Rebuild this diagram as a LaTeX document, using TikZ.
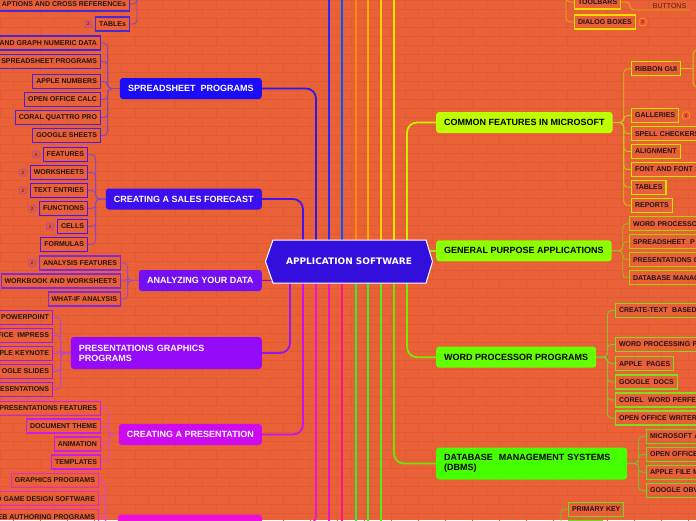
\documentclass[tikz,border=0pt]{standalone}
\usepackage{fontspec}
\setmainfont{Liberation Sans}
\newfontfamily\hexfont{DejaVu Sans}
\usetikzlibrary{positioning,calc}
\pgfdeclarelayer{back}\pgfdeclarelayer{lines}\pgfsetlayers{back,lines,main}
\definecolor{bgc}{RGB}{234,97,56}
\definecolor{brickc}{RGB}{224,90,51}
\definecolor{leaftxt}{RGB}{35,20,25}
\definecolor{appfill}{RGB}{50,15,220}
\definecolor{ssfill}{RGB}{28,12,250}
\definecolor{sffill}{RGB}{60,15,240}
\definecolor{ayfill}{RGB}{115,15,240}
\definecolor{pgfill}{RGB}{150,10,250}
\definecolor{cpfill}{RGB}{205,10,240}
\definecolor{botfill}{RGB}{235,15,220}
\definecolor{cffill}{RGB}{190,255,0}
\definecolor{gpfill}{RGB}{140,255,0}
\definecolor{wpfill}{RGB}{100,255,0}
\definecolor{dbfill}{RGB}{70,255,0}
\definecolor{topb}{RGB}{75,40,215}
\definecolor{ssb}{RGB}{70,35,220}
\definecolor{sfb}{RGB}{80,20,240}
\definecolor{ayb}{RGB}{130,40,220}
\definecolor{pgb}{RGB}{150,30,240}
\definecolor{cpb}{RGB}{200,30,230}
\definecolor{botb}{RGB}{230,40,210}
\definecolor{ssl}{RGB}{130,70,190}
\definecolor{sfl}{RGB}{140,70,200}
\definecolor{ayl}{RGB}{160,70,200}
\definecolor{pgl}{RGB}{180,70,210}
\definecolor{cpl}{RGB}{210,70,210}
\definecolor{botl}{RGB}{225,70,200}
\definecolor{tbb}{RGB}{240,220,0}
\definecolor{tbl}{RGB}{225,175,20}
\definecolor{cfb}{RGB}{200,230,0}
\definecolor{cfl}{RGB}{200,200,20}
\definecolor{gpb}{RGB}{170,210,0}
\definecolor{gpl}{RGB}{170,180,20}
\definecolor{wpb}{RGB}{130,220,30}
\definecolor{wpl}{RGB}{130,200,40}
\definecolor{dbb}{RGB}{100,225,30}
\definecolor{dbl}{RGB}{110,200,40}
\definecolor{badgefill}{RGB}{235,88,50}
\definecolor{badgel}{RGB}{170,80,170}
\definecolor{badger}{RGB}{255,140,40}
\definecolor{btntxt}{RGB}{90,30,10}
\definecolor{ssc}{RGB}{40,25,240}
\definecolor{sfc}{RGB}{70,20,235}
\definecolor{ayc}{RGB}{110,20,235}
\definecolor{pgc}{RGB}{150,20,240}
\definecolor{cpc}{RGB}{200,20,235}
\definecolor{botc}{RGB}{235,20,215}
\definecolor{tA}{RGB}{40,40,255}
\definecolor{tB}{RGB}{0,85,255}
\definecolor{tC}{RGB}{255,140,0}
\definecolor{tD}{RGB}{255,175,0}
\definecolor{tE}{RGB}{255,210,0}
\definecolor{tF}{RGB}{240,235,0}
\definecolor{bA}{RGB}{240,20,200}
\definecolor{bB}{RGB}{255,20,140}
\definecolor{bC}{RGB}{40,240,60}
\definecolor{bD}{RGB}{60,240,40}
\definecolor{bE}{RGB}{80,240,30}
\definecolor{cfc}{RGB}{200,240,0}
\definecolor{gpc}{RGB}{150,235,0}
\definecolor{wpc}{RGB}{120,235,0}
\definecolor{dbc}{RGB}{110,230,0}
\begin{document}
\begin{tikzpicture}[x=1pt,y=-1pt,
  leaf/.style={draw=#1, line width=1.1pt, font=\bfseries\fontsize{7}{8}\selectfont, text=leaftxt, inner xsep=3.5pt, inner ysep=0pt, minimum height=14pt},
  leafL/.style={leaf=#1, anchor=east},
  leafR/.style={leaf=#1, anchor=west},
  clipR/.style={text width=100pt, align=left},
  branch/.style={rounded corners=3pt, font=\bfseries\fontsize{9}{10}\selectfont, minimum height=21pt, inner xsep=8pt, inner ysep=3pt},
  branchL/.style={branch, anchor=east, text=white},
  branchR/.style={branch, anchor=west, text=black},
  mainc/.style={line width=1.8pt, rounded corners=10pt},
  subc/.style={line width=0.8pt, rounded corners=4pt},
  badge/.style={draw=#1, fill=badgefill, line width=0.8pt, rounded corners=1.5pt, minimum size=7pt, inner sep=0pt, font=\fontsize{4.5}{5}\selectfont, text=leaftxt}
]
\useasboundingbox (0,0) rectangle (696,520);
\begin{pgfonlayer}{back}
\fill[bgc] (0,0) rectangle (696,520);
\foreach \r in {0,...,58}{
  \draw[brickc, line width=0.5pt] (0,\r*9) -- (696,\r*9);
  \pgfmathsetmacro{\off}{mod(\r,2)*13.5}
  \foreach \c in {0,...,26}{\draw[brickc, line width=0.5pt] (\c*27+\off,\r*9) -- ++(0,9);}
}
\end{pgfonlayer}

% central node
\filldraw[fill=appfill, draw=white, line width=1pt] (265.5,261.5) -- (273,240) -- (426,240) -- (432.5,261.5) -- (426,283) -- (273,283) -- cycle;
\node[font=\hexfont\bfseries\fontsize{9}{10}\selectfont, text=white, minimum width=167pt, minimum height=43pt, inner sep=0pt] (app) at (349,261.5) {APPLICATION SOFTWARE};

% left branches
\node[branchL, fill=ssfill, minimum width=142pt] (ss) at (262,88.5) {SPREADSHEET~~PROGRAMS};
\node[branchL, fill=sffill, minimum width=156pt] (sf) at (262,199) {CREATING A SALES FORECAST};
\node[branchL, fill=ayfill, minimum width=123pt] (ay) at (262,280.5) {ANALYZING YOUR DATA};
\node[branchL, fill=pgfill, minimum height=32pt, text width=175pt, align=left] (pg) at (262,353) {PRESENTATIONS GRAPHICS\\PROGRAMS};
\node[branchL, fill=cpfill, minimum width=143pt] (cp) at (262,434.5) {CREATING A PRESENTATION};
\node[branch, anchor=north east, fill=botfill, minimum width=144pt, minimum height=22pt] (bot) at (262,514.3) {};

% right branches
\node[branchR, fill=cffill, minimum width=176pt] (cf) at (436,122.5) {COMMON FEATURES IN MICROSOFT};
\node[branchR, fill=gpfill, minimum width=175pt] (gp) at (436,250.8) {GENERAL PURPOSE APPLICATIONS};
\node[branchR, fill=wpfill, minimum width=160pt] (wp) at (436,357.2) {WORD PROCESSOR PROGRAMS};
\node[branchR, fill=dbfill, minimum height=32pt, text width=175pt, align=left] (db) at (436,463.5) {DATABASE~~MANAGEMENT SYSTEMS\\(DBMS)};

% top-left group
\node[leafL=topb] (cap) at (130,4) {APTIONS AND CROSS REFERENCEs};
\node[leafL=topb] (tab) at (130,24) {TABLEs};
\node[badge=badgel, left=3pt of tab] (tabb) {2};
\coordinate (capp) at (137,-8);

% spreadsheet group
\node[leafL=ssb] (ss1) at (101,43) {AND GRAPH NUMERIC DATA};
\node[leafL=ssb] (ss2) at (101,61.5) {SPREADSHEET PROGRAMS};
\node[leafL=ssb] (ss3) at (101,81.5) {APPLE NUMBERS};
\node[leafL=ssb] (ss4) at (101,99.5) {OPEN OFFICE CALC};
\node[leafL=ssb] (ss5) at (101,117.5) {CORAL QUATTRO PRO};
\node[leafL=ssb] (ss6) at (101,135.5) {GOOGLE SHEETS};

% sales forecast group
\node[leafL=sfb] (sf1) at (88,154.5) {FEATURES};
\node[leafL=sfb] (sf2) at (88,172.5) {WORKSHEETS};
\node[leafL=sfb] (sf3) at (88,190.5) {TEXT ENTRIES};
\node[leafL=sfb] (sf4) at (88,208.5) {FUNCTIONS};
\node[leafL=sfb] (sf5) at (88,226.5) {CELLS};
\node[leafL=sfb] (sf6) at (88,244.5) {FORMULAS};
\node[badge=badgel, left=3pt of sf1] (sfb1) {2};
\node[badge=badgel, left=3pt of sf2] (sfb2) {2};
\node[badge=badgel, left=3pt of sf3] (sfb3) {2};
\node[badge=badgel, left=3pt of sf4] (sfb4) {2};
\node[badge=badgel, left=3pt of sf5] (sfb5) {2};

% analyzing group
\node[leafL=ayb] (ay1) at (121,263) {ANALYSIS FEATURES};
\node[leafL=ayb] (ay2) at (121,281) {WORKBOOK AND WORKSHEETS};
\node[leafL=ayb] (ay3) at (121,299) {WHAT-IF ANALYSIS};
\node[badge=badgel, left=3pt of ay1] (ayb1) {2};

% presentation graphics group
\node[leafL=pgb] (pg1) at (53,317.5) {POWERPOINT};
\node[leafL=pgb] (pg2) at (53,335.5) {FICE~~IMPRESS};
\node[leafL=pgb] (pg3) at (53,353.5) {PLE KEYNOTE};
\node[leafL=pgb] (pg4) at (53,371.5) {OGLE SLIDES};
\node[leafL=pgb] (pg5) at (53,389.5) {ESENTATIONS};

% creating a presentation group
\node[leafL=cpb] (cp1) at (101,408.3) {PRESENTATIONS FEATURES};
\node[leafL=cpb] (cp2) at (101,426) {DOCUMENT THEME};
\node[leafL=cpb] (cp3) at (101,444) {ANIMATION};
\node[leafL=cpb] (cp4) at (101,462) {TEMPLATES};

% bottom group
\node[leafL=botb] (bt1) at (99,480.3) {GRAPHICS PROGRAMS};
\node[leafL=botb] (bt2) at (99,498.7) {D GAME DESIGN SOFTWARE};
\node[leafL=botb] (bt3) at (99,516.7) {EB AUTHORING PROGRAMS};

% toolbars group
\node[leafR=tbb] (tb1) at (574,2) {TOOLBARS};
\node[leafR=tbb] (tb2) at (574,22) {DIALOG BOXES};
\node[badge=badger, right=3pt of tb2] (tbb2) {2};
\node[font=\fontsize{7}{8}\selectfont, text=btntxt, text width=48pt, align=right, inner xsep=4pt, inner ysep=1.5pt, anchor=south west] (btn) at (634,10) {BUTTONS};
\coordinate (tbp) at (566,-8);

% common features group
\node[leafR=cfb] (cf1) at (631,68.8) {RIBBON GUI};
\node[leafR=cfb] (cf2) at (631,115.5) {GALLERIES};
\node[leafR=cfb, clipR] (cf3) at (631,133.7) {SPELL CHECKERS};
\node[leafR=cfb] (cf4) at (631,151.5) {ALIGNMENT};
\node[leafR=cfb, clipR] (cf5) at (631,169.5) {FONT AND FONT S};
\node[leafR=cfb] (cf6) at (631,187.2) {TABLES};
\node[leafR=cfb] (cf7) at (631,205.3) {REPORTS};
\node[badge=badger, right=3pt of cf2] (cfb2) {2};
\coordinate (rg1) at (704,50);
\coordinate (rg2) at (704,87);

% general purpose group
\node[leafR=gpb, clipR] (gp1) at (629,223.8) {WORD PROCESSO};
\node[leafR=gpb, clipR] (gp2) at (629,241.8) {SPREADSHEET~~P};
\node[leafR=gpb, clipR] (gp3) at (629,259.8) {PRESENTATIONS G};
\node[leafR=gpb, clipR] (gp4) at (629,277.8) {DATABASE MANAG};

% word processor group
\node[leafR=wpb, clipR] (wp1) at (615,310.5) {CREATE-TEXT~~BASED};
\node[leafR=wpb, clipR] (wp2) at (615,344.5) {WORD PROCESSING P};
\node[leafR=wpb] (wp3) at (615,363.8) {APPLE~~PAGES};
\node[leafR=wpb] (wp4) at (615,382) {GOOGLE~~DOCS};
\node[leafR=wpb, clipR] (wp5) at (615,400) {COREL~~WORD PERFE};
\node[leafR=wpb, clipR] (wp6) at (615,418) {OPEN OFFICE WRITER};

% dbms group
\node[leafR=dbb, clipR] (db1) at (646,436.3) {MICROSOFT A};
\node[leafR=dbb, clipR] (db2) at (646,454.5) {OPEN OFFICE};
\node[leafR=dbb, clipR] (db3) at (646,472.3) {APPLE FILE M};
\node[leafR=dbb, clipR] (db4) at (646,490.5) {GOOGLE OBV};

% primary key group
\node[leafR=dbb] (pk) at (568,509.2) {PRIMARY KEY};
\node[leaf=dbb, anchor=north west, minimum width=34pt] (pk2) at (568,519.5) {};
\coordinate (pkp) at (561,530);

% off-page ends of main connectors
\coordinate (tA) at ($(app.north)+(-20,-250)$);
\coordinate (tB) at ($(app.north)+(-7,-250)$);
\coordinate (tC) at ($(app.north)+(7,-250)$);
\coordinate (tD) at ($(app.north)+(19,-250)$);
\coordinate (tE) at ($(app.north)+(32,-250)$);
\coordinate (tF) at ($(app.north)+(45,-250)$);
\coordinate (bA) at ($(app.south)+(-20,250)$);
\coordinate (bB) at ($(app.south)+(-7,250)$);
\coordinate (bC) at ($(app.south)+(7,250)$);
\coordinate (bD) at ($(app.south)+(19,250)$);
\coordinate (bE) at ($(app.south)+(32,250)$);

\begin{pgfonlayer}{lines}
% main connectors
\draw[mainc, ssc] (ss.east) -| ([xshift=-33pt]app.north);
\draw[mainc, sfc] (sf.east) -| ([xshift=-46pt]app.north);
\draw[mainc, ayc] (ay.east) -- ($(app.west |- ay.east)+(8,0)$);
\draw[mainc, pgc] (pg.east) -| ([xshift=-59pt]app.south);
\draw[mainc, cpc] (cp.east) -| ([xshift=-46pt]app.south);
\draw[mainc, botc] (bot.east) -| ([xshift=-33pt]app.south);
\draw[mainc, tA] ([xshift=-20pt]app.north) -- (tA);
\draw[mainc, tB] ([xshift=-7pt]app.north) -- (tB);
\draw[mainc, tC] ([xshift=7pt]app.north) -- (tC);
\draw[mainc, tD] ([xshift=19pt]app.north) -- (tD);
\draw[mainc, tE] ([xshift=32pt]app.north) -- (tE);
\draw[mainc, tF] ([xshift=45pt]app.north) -- (tF);
\draw[mainc, bA] ([xshift=-20pt]app.south) -- (bA);
\draw[mainc, bB] ([xshift=-7pt]app.south) -- (bB);
\draw[mainc, bC] ([xshift=7pt]app.south) -- (bC);
\draw[mainc, bD] ([xshift=19pt]app.south) -- (bD);
\draw[mainc, bE] ([xshift=32pt]app.south) -- (bE);
\draw[mainc, cfc] (cf.west) -| ([xshift=58pt]app.north);
\draw[mainc, gpc] (gp.west) -- ($(app.east |- gp.west)+(-6,0)$);
\draw[mainc, wpc] (wp.west) -| ([xshift=58pt]app.south);
\draw[mainc, dbc] (db.west) -| ([xshift=45pt]app.south);

% sub connectors, left
\draw[subc, ssl] (cap.east) -| (capp);
\draw[subc, ssl] (tab.east) -| (capp);
\foreach \n in {ss1,ss2,ss3,ss4,ss5,ss6}{\draw[subc, ssl] (\n.east) -| ([xshift=-12pt]ss.west) -- (ss.west);}
\foreach \n in {sf1,sf2,sf3,sf4,sf5,sf6}{\draw[subc, sfl] (\n.east) -| ([xshift=-10pt]sf.west) -- (sf.west);}
\foreach \n in {ay1,ay2,ay3}{\draw[subc, ayl] (\n.east) -| ([xshift=-11pt]ay.west) -- (ay.west);}
\foreach \n in {pg1,pg2,pg3,pg4,pg5}{\draw[subc, pgl] (\n.east) -| ([xshift=-10pt]pg.west) -- (pg.west);}
\foreach \n in {cp1,cp2,cp3,cp4}{\draw[subc, cpl] (\n.east) -| ([xshift=-10pt]cp.west) -- (cp.west);}
\foreach \n in {bt1,bt2,bt3}{\draw[subc, botl] (\n.east) -| ([xshift=-12pt]bot.west) -- (bot.west);}

% sub connectors, right
\draw[subc, tbl] (tb1.west) -| (tbp);
\draw[subc, tbl] (tb2.west) -| (tbp);
\draw[subc, tbl] (tb1.east) -| ([xshift=-4pt]btn.south west) -- (btn.south east);
\foreach \n in {cf1,cf2,cf3,cf4,cf5,cf6,cf7}{\draw[subc, cfl] (\n.west) -| ([xshift=11pt]cf.east) -- (cf.east);}
\draw[subc, cfl] (cf1.east) -- ([xshift=12pt]cf1.east);
\draw[subc, cfl] (rg1) -| ([xshift=12pt]cf1.east) |- (rg2);
\foreach \n in {gp1,gp2,gp3,gp4}{\draw[subc, gpl] (\n.west) -| ([xshift=11pt]gp.east) -- (gp.east);}
\foreach \n in {wp1,wp2,wp3,wp4,wp5,wp6}{\draw[subc, wpl] (\n.west) -| ([xshift=11pt]wp.east) -- (wp.east);}
\foreach \n in {db1,db2,db3,db4}{\draw[subc, dbl] (\n.west) -| ([xshift=11pt]db.east) -- (db.east);}
\draw[subc, dbl] (pk.west) -| (pkp);
\end{pgfonlayer}
\end{tikzpicture}
\end{document}
